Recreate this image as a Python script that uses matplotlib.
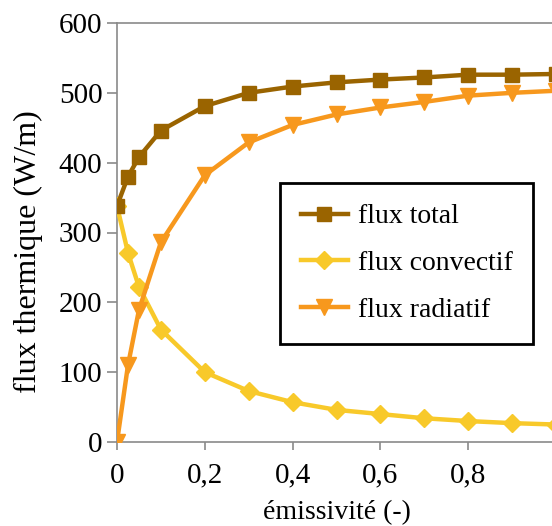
import matplotlib
matplotlib.use("Agg")
import matplotlib.pyplot as plt

emissivite = [0, 0.025, 0.05, 0.1, 0.2, 0.3, 0.4, 0.5, 0.6, 0.7, 0.8, 0.9, 1.0]
flux_convectif = [338, 271, 222, 161, 100, 73, 57, 46, 40, 34, 30, 27, 25]
flux_radiatif = [0, 110, 189, 286, 382, 429, 454, 469, 479, 487, 496, 500, 503]
flux_total = [338, 380, 408, 446, 481, 500, 509, 515, 519, 522, 526, 526, 527]

x_ticks = [0, 0.2, 0.4, 0.6, 0.8]
x_ticklabels = ["0", "0,2", "0,4", "0,6", "0,8"]
y_ticks = [0, 100, 200, 300, 400, 500, 600]

plt.rcParams['font.family'] = ['Liberation Serif', 'DejaVu Serif']

fig = plt.figure(figsize=(5.52, 5.26), dpi=100)
ax = fig.add_axes([117/552, (526-442)/526, 439/552, 419/526])

c_total = "#9A6400"
c_conv = "#F8C92A"
c_rad = "#F7981D"

ax.plot(emissivite, flux_total, color=c_total, lw=3.2, marker='s', ms=10, label="flux total", zorder=4)
ax.plot(emissivite, flux_convectif, color=c_conv, lw=3.2, marker='D', ms=9, label="flux convectif", zorder=3)
ax.plot(emissivite, flux_radiatif, color=c_rad, lw=3.2, marker='v', ms=11, label="flux radiatif", zorder=3)

ax.set_xlim(0, 1.0)
ax.set_ylim(0, 600)
ax.set_xticks(x_ticks)
ax.set_xticklabels(x_ticklabels)
ax.set_yticks(y_ticks)
for s in ['left', 'bottom', 'top', 'right']:
    ax.spines[s].set_color('#8a8a8a')
    ax.spines[s].set_linewidth(1.2)
ax.tick_params(axis='y', direction='out', length=7.5, width=1.2, color='#8a8a8a',
               labelsize=21, pad=3)
ax.tick_params(axis='x', direction='out', length=6, width=1.2, color='#8a8a8a',
               labelsize=21, pad=9)

ax.set_xlabel("émissivité (-)", fontsize=20, labelpad=8)
ax.set_ylabel("flux thermique (W/m)", fontsize=23)
ax.yaxis.set_label_coords((43-117)/439, (442-252)/419)

leg = ax.legend(loc='upper left', bbox_to_anchor=(280/552, 1-183/526), bbox_transform=fig.transFigure,
                fontsize=20, frameon=True, fancybox=False, edgecolor='black',
                handlelength=1.7, handletextpad=0.35, labelspacing=0.77, borderpad=0.75,
                borderaxespad=0)
leg.get_frame().set_linewidth(2)
leg.get_frame().set_alpha(1)

fig.savefig("out.png", dpi=100)
